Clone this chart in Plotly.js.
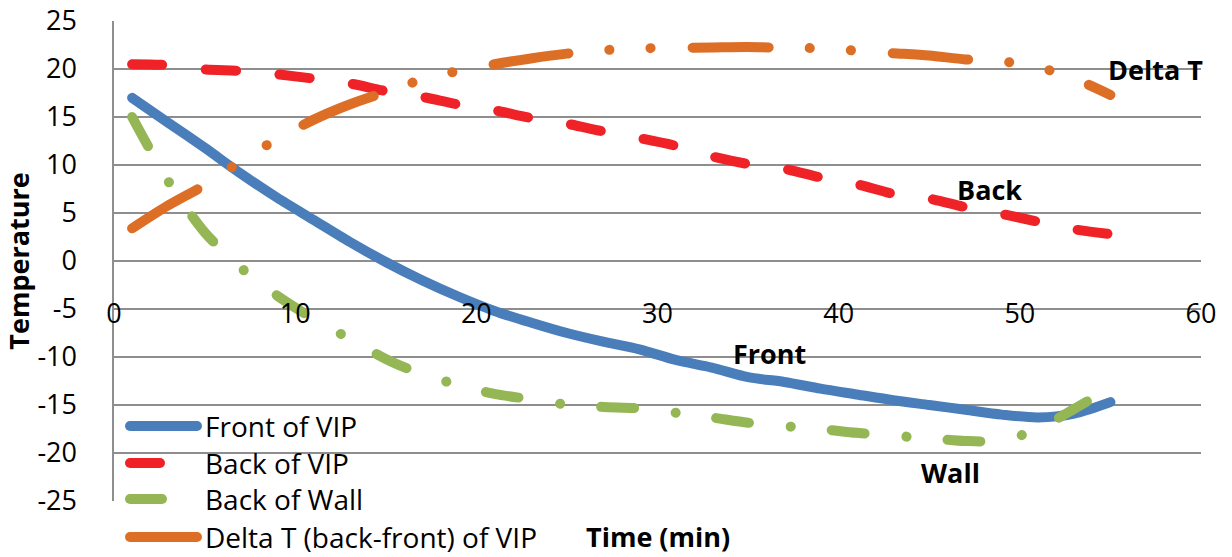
<!DOCTYPE html>
<html>
<head>
<meta charset="utf-8">
<script src="https://cdn.plot.ly/plotly-3.0.1.min.js"></script>
<style>
  html, body { margin: 0; padding: 0; background: #fff; }
  #chart { width: 1232px; height: 557px; }
  path.js-line, .shapelayer path { stroke-linecap: round !important; stroke-linejoin: round !important; }
</style>
</head>
<body>
<div id="chart"></div>
<script>
// Time (min)
var timeMin = [1, 3, 5, 7, 9, 11, 13, 15, 17, 19, 21, 23, 25, 27, 29, 31, 33, 35, 37, 39, 41, 43, 45, 47, 49, 51, 53, 55];
var timeWall = [1, 3, 5, 7, 9, 11, 13, 15, 17, 19, 21, 23, 25, 27, 29, 31, 33, 35, 37, 39, 41, 43, 45, 47, 49, 51, 53, 54];
// Series values (°C)
var frontVIP = [17.0, 14.4, 11.8, 9.1, 6.6, 4.3, 2.0, -0.1, -2.0, -3.7, -5.2, -6.4, -7.5, -8.4, -9.2, -10.3, -11.1, -12.1, -12.6, -13.3, -13.9, -14.5, -15.0, -15.5, -16.0, -16.3, -15.9, -14.7];
var backVIP = [20.5, 20.4, 19.95, 19.8, 19.45, 19.0, 18.5, 17.7, 17.1, 16.3, 15.7, 14.9, 14.3, 13.5, 12.8, 12.0, 10.9, 10.1, 9.6, 8.7, 8.0, 7.0, 6.5, 5.6, 4.9, 4.1, 3.3, 2.8];
var backWall = [15.0, 8.3, 3.0, -0.7, -3.6, -6.0, -8.1, -10.2, -11.8, -12.9, -13.85, -14.4, -14.95, -15.2, -15.35, -15.8, -16.3, -16.85, -17.2, -17.5, -17.9, -18.2, -18.45, -18.75, -18.7, -17.5, -15.4, -14.3];
var deltaT = [3.4, 5.8, 7.9, 10.4, 12.7, 14.7, 16.3, 17.6, 18.9, 19.8, 20.5, 21.1, 21.6, 21.95, 22.15, 22.2, 22.25, 22.3, 22.2, 22.15, 21.9, 21.65, 21.4, 21.0, 20.8, 20.2, 19.0, 17.3];

var seriesNames = ['Front of VIP', 'Back of VIP', 'Back of Wall', 'Delta T (back-front) of VIP'];
var seriesLabels = ['Front', 'Back', 'Wall', 'Delta T'];
var labelX = [36.2, 48.3, 46.2, 57.5];
var labelY = [-9.6, 7.4, -22.0, 19.9];
var xTicks = [0, 10, 20, 30, 40, 50, 60];
var yTicks = [-25, -20, -15, -10, -5, 0, 5, 10, 15, 20, 25];

var colors = ['#4A7EBB', '#EE2227', '#94B655', '#DD6E26'];
var dashes = ['solid', '30px,44px', '33px,42px,0.1px,41px', '76px,41px,0.1px,41px,0.1px,42px'];
var LW = 10;
var FONT = 'Open Sans, Liberation Sans, Arial, sans-serif';

var allX = [timeMin, timeMin, timeWall, timeMin];
var allY = [frontVIP, backVIP, backWall, deltaT];
var traces = allY.map(function (ys, i) {
  return {
    x: allX[i], y: ys, type: 'scatter', mode: 'lines', name: seriesNames[i],
    line: { color: colors[i], width: LW, dash: dashes[i], shape: 'spline', smoothing: 0.8 },
    hoverinfo: 'skip', showlegend: false
  };
});

var shapes = [];
// legend background box (covers grid lines, below traces)
shapes.push({ type: 'rect', xref: 'x', yref: 'y', x0: 0.15, x1: 24.06, y0: -15.25, y1: -27,
  fillcolor: '#ffffff', line: { width: 0 }, layer: 'below' });

var annotations = [];
var legY = [426, 463, 499, 537];
var legX1 = [197, 162, 162, 197];
function px2paperX(p) { return (p - 114) / 1087; }
function px2paperY(p) { return (501 - p) / 480; }
seriesNames.forEach(function (n, i) {
  shapes.push({ type: 'line', xref: 'paper', yref: 'paper',
    x0: px2paperX(130), x1: px2paperX(legX1[i]), y0: px2paperY(legY[i]), y1: px2paperY(legY[i]),
    line: { color: colors[i], width: LW, dash: dashes[i] }, layer: 'above' });
  annotations.push({ xref: 'paper', yref: 'paper', x: px2paperX(203), y: px2paperY(legY[i]),
    xanchor: 'left', yanchor: 'middle', showarrow: false, text: n,
    font: { family: FONT, size: 28, color: '#000' } });
});
seriesLabels.forEach(function (t, i) {
  annotations.push({ xref: 'x', yref: 'y', x: labelX[i], y: labelY[i], xanchor: 'center', yanchor: 'middle',
    showarrow: false, text: t, font: { family: FONT, size: 27, color: '#000', weight: 700 } });
});
// x axis title
annotations.push({ xref: 'paper', yref: 'paper', x: 0.5, y: px2paperY(536), xanchor: 'center', yanchor: 'middle',
  showarrow: false, text: 'Time (min)', font: { family: FONT, size: 27, color: '#000', weight: 700 } });

var layout = {
  width: 1232, height: 557,
  margin: { l: 114, r: 31, t: 21, b: 56, pad: 0 },
  paper_bgcolor: '#ffffff', plot_bgcolor: '#ffffff',
  showlegend: false,
  xaxis: {
    range: [0, 60], tickmode: 'array', tickvals: xTicks, ticktext: xTicks.map(String),
    showgrid: false, zeroline: false, showline: false, ticks: '',
    anchor: 'free', position: 0.43, automargin: false,
    tickfont: { family: FONT, size: 27, color: '#000' }
  },
  yaxis: {
    range: [-25, 25], tickmode: 'array', tickvals: yTicks, ticktext: yTicks.map(String),
    showgrid: true, gridcolor: '#8E8E8E', gridwidth: 1.4, zeroline: false,
    showline: true, linecolor: '#8E8E8E', linewidth: 1.6,
    ticks: 'outside', ticklen: 30, tickcolor: 'rgba(0,0,0,0)', automargin: false,
    tickfont: { family: FONT, size: 27, color: '#000' },
    title: { text: 'Temperature', standoff: 0, font: { family: FONT, size: 27, color: '#000', weight: 700 } }
  },
  shapes: shapes,
  annotations: annotations
};

Plotly.newPlot('chart', traces, layout, { staticPlot: true, displayModeBar: false });
</script>
</body>
</html>
